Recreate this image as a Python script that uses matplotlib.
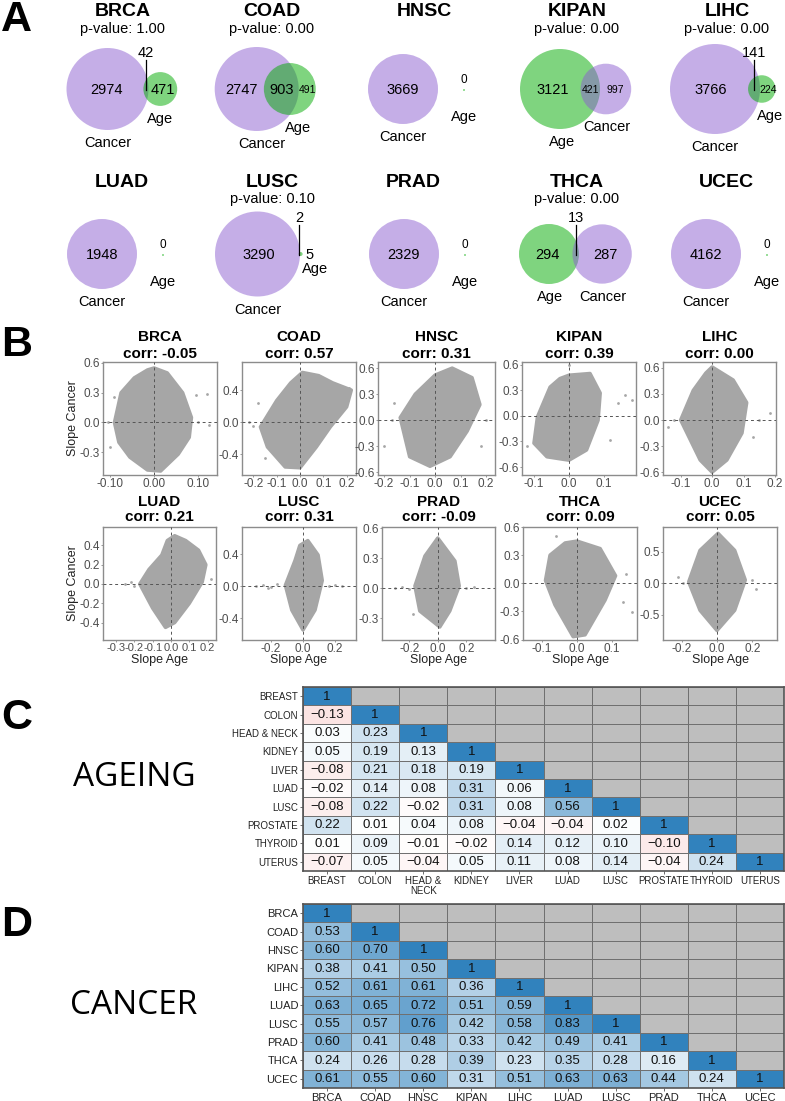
"""Venn overlaps, slope scatter clouds and correlation matrices (ageing vs cancer)."""

import math

import matplotlib

matplotlib.use("Agg")
import matplotlib.pyplot as plt
import numpy as np
from matplotlib.colors import LinearSegmentedColormap
from matplotlib.patches import Circle, Polygon

plt.rcParams["font.family"] = ["Liberation Sans", "DejaVu Sans"]
plt.rcParams["axes.unicode_minus"] = False

W, H = 785, 1101

# ---------------- data: panel A (venn counts) ----------------
cancers = ["BRCA", "COAD", "HNSC", "KIPAN", "LIHC", "LUAD", "LUSC", "PRAD", "THCA", "UCEC"]
cancer_only = [2974, 2747, 3669, 997, 3766, 1948, 3290, 2329, 287, 4162]
age_only = [471, 491, 0, 3121, 224, 0, 5, 0, 294, 0]
both = [42, 903, 0, 421, 141, 0, 2, 0, 13, 0]
p_values = [1.00, 0.00, None, 0.00, 0.00, None, 0.10, None, 0.00, None]

# ---------------- data: panel B (cloud outlines) ----------------
corr = [-0.05, 0.57, 0.31, 0.39, 0.00, 0.21, 0.31, -0.09, 0.09, 0.05]

brca_x = [0.00, 0.03, 0.065, 0.085, 0.08, 0.055, 0.015, -0.015, -0.055, -0.08, -0.09, -0.075, -0.045, -0.015]
brca_y = [0.55, 0.50, 0.30, 0.05, -0.15, -0.32, -0.49, -0.48, -0.35, -0.20, 0.00, 0.30, 0.45, 0.53]
coad_x = [0.01, 0.08, 0.14, 0.22, 0.20, 0.13, 0.07, 0.00, -0.064, -0.14, -0.17, -0.10, -0.04]
coad_y = [0.62, 0.58, 0.49, 0.40, 0.19, -0.06, -0.31, -0.57, -0.56, -0.31, -0.06, 0.27, 0.49]
hnsc_x = [0.067, 0.145, 0.176, 0.126, 0.059, -0.02, -0.10, -0.137, -0.078, 0.0]
hnsc_y = [0.60, 0.49, 0.18, -0.125, -0.42, -0.53, -0.42, 0.03, 0.30, 0.52]
kipan_x = [0.0, 0.06, 0.089, 0.083, 0.05, 0.0, -0.063, -0.10, -0.09, -0.054, -0.026]
kipan_y = [0.48, 0.50, 0.27, -0.05, -0.40, -0.52, -0.48, -0.32, -0.01, 0.34, 0.44]
lihc_x = [0.0, 0.067, 0.11, 0.095, 0.047, 0.0, -0.038, -0.10, -0.06, -0.02]
lihc_y = [0.61, 0.46, 0.20, -0.15, -0.46, -0.60, -0.46, 0.0, 0.34, 0.54]
luad_x = [0.02, 0.08, 0.15, 0.19, 0.17, 0.10, 0.02, -0.03, -0.10, -0.17, -0.12, -0.05, -0.02]
luad_y = [0.50, 0.45, 0.35, 0.20, 0.02, -0.20, -0.40, -0.45, -0.25, 0.00, 0.15, 0.30, 0.45]
lusc_x = [0.03, 0.094, 0.12, 0.075, 0.0, -0.07, -0.11, -0.05, -0.02]
lusc_y = [0.57, 0.39, 0.07, -0.30, -0.55, -0.30, 0.01, 0.32, 0.51]
prad_x = [0.0, 0.12, 0.15, 0.084, 0.014, -0.126, -0.16, -0.09]
prad_y = [0.50, 0.27, 0.02, -0.23, -0.39, -0.23, 0.02, 0.32]
thca_x = [0.0, 0.066, 0.11, 0.08, 0.023, -0.011, -0.063, -0.09, -0.077, -0.034]
thca_y = [0.45, 0.37, 0.08, -0.18, -0.55, -0.57, -0.23, 0.03, 0.30, 0.43]
ucec_x = [0.006, 0.10, 0.16, 0.10, 0.0, -0.096, -0.16, -0.096]
ucec_y = [0.79, 0.52, 0.05, -0.43, -0.75, -0.43, 0.02, 0.52]

# scattered outlying genes
brca_ox = [0.12, 0.125, 0.10, -0.10, -0.09, 0.095, -0.105]
brca_oy = [0.29, -0.03, 0.0, -0.25, 0.26, 0.28, 0.0]
coad_ox = [-0.22, -0.18, -0.15, -0.20, 0.21]
coad_oy = [0.0, 0.24, -0.45, -0.05, 0.42]
hnsc_ox = [-0.17, -0.20, 0.18, 0.20, -0.16]
hnsc_oy = [0.0, -0.30, -0.30, 0.0, 0.20]
kipan_ox = [0.18, 0.117, -0.12, 0.0, 0.16, 0.14]
kipan_oy = [0.19, -0.28, -0.35, 0.60, 0.25, 0.15]
lihc_ox = [0.184, -0.14, 0.13, 0.15, -0.12]
lihc_oy = [0.08, -0.08, -0.19, 0.0, 0.0]
luad_ox = [-0.25, -0.22, 0.22, -0.2]
luad_oy = [0.0, 0.02, 0.05, -0.02]
lusc_ox = [-0.29, -0.25, -0.20, -0.16, 0.16, 0.20, 0.24, -0.22]
lusc_oy = [0.0, 0.01, -0.01, 0.02, 0.0, 0.01, 0.0, -0.03]
prad_ox = [-0.30, -0.25, -0.20, 0.20, 0.25, -0.17]
prad_oy = [0.0, 0.01, -0.01, 0.0, 0.01, -0.26]
thca_ox = [-0.06, 0.157, 0.13, 0.14]
thca_oy = [0.50, -0.31, -0.20, 0.10]
ucec_ox = [-0.19, 0.20, 0.22, -0.22]
ucec_oy = [0.0, 0.05, -0.10, 0.10]

# ---------------- data: panels C and D (lower-triangle correlations) ----------------
tissues = ["BREAST", "COLON", "HEAD & NECK", "KIDNEY", "LIVER", "LUAD", "LUSC", "PROSTATE", "THYROID", "UTERUS"]
tissue_xlabels = ["BREAST", "COLON", "HEAD &\nNECK", "KIDNEY", "LIVER", "LUAD", "LUSC", "PROSTATE", "THYROID", "UTERUS"]
ageing_corr = [
    [1],
    [-0.13, 1],
    [0.03, 0.23, 1],
    [0.05, 0.19, 0.13, 1],
    [-0.08, 0.21, 0.18, 0.19, 1],
    [-0.02, 0.14, 0.08, 0.31, 0.06, 1],
    [-0.08, 0.22, -0.02, 0.31, 0.08, 0.56, 1],
    [0.22, 0.01, 0.04, 0.08, -0.04, -0.04, 0.02, 1],
    [0.01, 0.09, -0.01, -0.02, 0.14, 0.12, 0.10, -0.10, 1],
    [-0.07, 0.05, -0.04, 0.05, 0.11, 0.08, 0.14, -0.04, 0.24, 1],
]
cancer_corr = [
    [1],
    [0.53, 1],
    [0.60, 0.70, 1],
    [0.38, 0.41, 0.50, 1],
    [0.52, 0.61, 0.61, 0.36, 1],
    [0.63, 0.65, 0.72, 0.51, 0.59, 1],
    [0.55, 0.57, 0.76, 0.42, 0.58, 0.83, 1],
    [0.60, 0.41, 0.48, 0.33, 0.42, 0.49, 0.41, 1],
    [0.24, 0.26, 0.28, 0.39, 0.23, 0.35, 0.28, 0.16, 1],
    [0.61, 0.55, 0.60, 0.31, 0.51, 0.63, 0.63, 0.44, 0.24, 1],
]

# ---------------- layout (pixels) ----------------
VENN_CX = [107.5, 256.7, 403, 560, 715, 102, 257.5, 404, 549, 706]
VENN_RMAX = [41, 42, 35, 40, 45, 35, 42.5, 35, 30, 35]
VENN_AGE_LEFT = [False, False, False, True, False, False, False, False, True, False]
VENN_EXT = [True, False, False, False, True, False, True, False, True, False]
VENN_TITLE_X = [123, 272, 424, 577, 727, 122, 272, 413, 577, 726]
VENN_ROW_CY = [89, 254]
VENN_TITLE_Y = [16.5, 186.5]
VENN_P_Y = [33.3, 203.3]
AGE_LAB_DX = [0, 8, 0, 2, 8, 0, 14, 0, 1, 0]
CAN_LAB_DX = [0, 5, 0, 1, 0, 0, 0, 0, 1, 0]
PURPLE = "#8c5fd0"
GREEN = "#00aa00"

B_BOXES = [
    (103, 362, 217, 475), (242, 362, 356, 475), (378, 362, 495, 475), (522, 362, 636, 475), (663, 362, 776, 475),
    (103, 527, 216, 640), (242, 527, 356, 640), (382, 527, 495, 640), (523, 527, 637, 640), (663, 527, 777, 640),
]
B_XLIM = [(-0.116, 0.143), (-0.249, 0.240), (-0.224, 0.235), (-0.134, 0.191), (-0.156, 0.203),
          (-0.37, 0.245), (-0.38, 0.33), (-0.39, 0.40), (-0.154, 0.171), (-0.305, 0.339)]
B_YLIM = [(-0.53, 0.61), (-0.66, 0.75), (-0.63, 0.67), (-0.694, 0.635), (-0.632, 0.667),
          (-0.58, 0.59), (-0.675, 0.74), (-0.52, 0.61), (-0.605, 0.595), (-0.9, 0.89)]
B_XTICKS = [[-0.1, 0, 0.1], [-0.2, -0.1, 0, 0.1, 0.2], [-0.2, -0.1, 0, 0.1, 0.2], [-0.1, 0, 0.1], [-0.1, 0, 0.1, 0.2],
            [-0.3, -0.2, -0.1, 0, 0.1, 0.2], [-0.2, 0, 0.2], [-0.2, 0, 0.2], [-0.1, 0, 0.1], [-0.2, 0, 0.2]]
B_YTICKS = [[-0.3, 0, 0.3, 0.6], [-0.4, 0, 0.4], [-0.6, -0.3, 0, 0.3, 0.6], [-0.6, -0.3, 0, 0.3, 0.6],
            [-0.6, -0.3, 0, 0.3, 0.6], [-0.4, -0.2, 0, 0.2, 0.4], [-0.4, 0, 0.4], [-0.3, 0, 0.3, 0.6],
            [-0.6, -0.3, 0, 0.3, 0.6], [-0.5, 0, 0.5]]
B_XDEC = [2, 1, 1, 1, 1, 1, 1, 1, 1, 1]
B_XLABSIZE = [8.5, 8.5, 8.5, 8.5, 8.5, 8, 8.5, 8.5, 8.5, 8.5]
CLOUD = "#a6a6a6"


def px_axes(fig, x0, y0, x1, y1):
    return fig.add_axes([x0 / W, 1 - y1 / H, (x1 - x0) / W, (y1 - y0) / H])


def lens_area(r1, r2, d):
    if d >= r1 + r2:
        return 0.0
    if d <= abs(r1 - r2):
        return math.pi * min(r1, r2) ** 2
    a1 = r1 * r1 * math.acos((d * d + r1 * r1 - r2 * r2) / (2 * d * r1))
    a2 = r2 * r2 * math.acos((d * d + r2 * r2 - r1 * r1) / (2 * d * r2))
    a3 = 0.5 * math.sqrt((-d + r1 + r2) * (d + r1 - r2) * (d - r1 + r2) * (d + r1 + r2))
    return a1 + a2 - a3


def centre_distance(r1, r2, target):
    lo, hi = abs(r1 - r2) + 1e-6, r1 + r2
    for _ in range(80):
        mid = 0.5 * (lo + hi)
        if lens_area(r1, r2, mid) > target:
            lo = mid
        else:
            hi = mid
    return 0.5 * (lo + hi)


def draw_venn(ax, i):
    row = i // 5
    cy = VENN_ROW_CY[row]
    n_can = cancer_only[i] + both[i]
    n_age = age_only[i] + both[i]
    ax.text(VENN_TITLE_X[i], VENN_TITLE_Y[row], cancers[i], ha="center", va="baseline",
            fontsize=14, fontweight="bold")
    if p_values[i] is not None:
        ax.text(VENN_TITLE_X[i], VENN_P_Y[row], f"p-value: {p_values[i]:.2f}", ha="center",
                va="baseline", fontsize=10.5)
    cx = VENN_CX[i]
    if n_age == 0:
        r = VENN_RMAX[i]
        ax.add_patch(Circle((cx, cy), r, color=PURPLE, alpha=0.5, lw=0))
        ax.text(cx, cy + 1, f"{cancer_only[i]}", ha="center", va="center", fontsize=10.5)
        ax.text(cx, cy + r + 13, "Cancer", ha="center", va="center", fontsize=10.5)
        dx = cx + 61
        ax.add_patch(Circle((dx, cy + 1), 1.0, color=GREEN, alpha=0.5, lw=0))
        ax.text(dx, cy - 9, "0", ha="center", va="center", fontsize=8.5)
        ax.text(dx, cy + 28, "Age", ha="center", va="center", fontsize=10.5)
        return
    k = math.pi * VENN_RMAX[i] ** 2 / max(n_can, n_age)
    r_can = math.sqrt(n_can * k / math.pi)
    r_age = math.sqrt(n_age * k / math.pi)
    if VENN_AGE_LEFT[i]:
        sets = [("Age", r_age, age_only[i], GREEN, AGE_LAB_DX[i]), ("Cancer", r_can, cancer_only[i], PURPLE, CAN_LAB_DX[i])]
    else:
        sets = [("Cancer", r_can, cancer_only[i], PURPLE, CAN_LAB_DX[i]), ("Age", r_age, age_only[i], GREEN, AGE_LAB_DX[i])]
    (n1, r1, c1, col1, dx1), (n2, r2, c2, col2, dx2) = sets
    d = centre_distance(r1, r2, both[i] * k)
    x1, x2 = cx, cx + d
    ax.add_patch(Circle((x1, cy), r1, color=col1, alpha=0.5, lw=0))
    ax.add_patch(Circle((x2, cy), r2, color=col2, alpha=0.5, lw=0))
    left_x = 0.5 * (x1 - r1 + x2 - r2) + 2
    right_x = 0.5 * (x1 + r1 + x2 + r2)
    lens_x = 0.5 * (x2 - r2 + x1 + r1)
    ax.text(left_x, cy + 1, f"{c1}", ha="center", va="center", fontsize=10.5)
    if right_x - (x1 + r1) < 5:
        right_x = x2 + r2 + 7
    small = r2 < 30 and c2 < 1000 and not VENN_EXT[i] or cancers[i] == "LIHC"
    ax.text(right_x, cy + 1, f"{c2}", ha="center", va="center", fontsize=7.5 if small else 10.5)
    if VENN_EXT[i]:
        ax.text(lens_x, cy - 36, f"{both[i]}", ha="center", va="center", fontsize=10.5)
        ax.plot([lens_x, lens_x], [cy - 29, cy + 1], color="black", lw=0.9)
    else:
        ax.text(lens_x, cy + 1, f"{both[i]}", ha="center", va="center",
                fontsize=7.5 if both[i] < 500 else 10.5)
    ax.text(x1 + dx1, cy + r1 + 13, n1, ha="center", va="center", fontsize=10.5)
    ax.text(x2 + dx2, cy + r2 + 13, n2, ha="center", va="center", fontsize=10.5)


def draw_cloud(ax, i, hx, hy, ox, oy):
    ax.add_patch(Polygon(np.column_stack([hx, hy]), closed=True, facecolor=CLOUD, edgecolor=CLOUD,
                         lw=2.5, joinstyle="round", zorder=2))
    ax.scatter(ox, oy, s=4, color=CLOUD, lw=0, zorder=2)
    ax.axhline(0, color="#555555", lw=0.7, ls=(0, (3, 3)), zorder=3)
    ax.axvline(0, color="#555555", lw=0.7, ls=(0, (3, 3)), zorder=3)
    ax.set_xlim(*B_XLIM[i])
    ax.set_ylim(*B_YLIM[i])
    ax.set_xticks(B_XTICKS[i])
    ax.set_xticklabels([f"{t:.{B_XDEC[i]}f}" for t in B_XTICKS[i]])
    ax.set_yticks(B_YTICKS[i])
    ax.set_yticklabels([f"{t:.1f}" for t in B_YTICKS[i]])
    ax.tick_params(length=1.5, width=0.6, pad=1, labelsize=8.5, colors="#888888", labelcolor="#4d4d4d")
    ax.tick_params(axis="x", labelsize=B_XLABSIZE[i])
    for sp in ax.spines.values():
        sp.set_color("#8c8c8c")
        sp.set_linewidth(1.0)


def draw_corr(ax, rows, ylabels, xlabels, labsize):
    n = len(rows)
    m = np.full((n, n), np.nan)
    for r, vals in enumerate(rows):
        m[r, : len(vals)] = vals
    cmap = LinearSegmentedColormap.from_list("rwb", ["#de2d26", "#ffffff", "#3182bd"])
    ax.set_facecolor("#bebebe")
    ax.pcolormesh(np.arange(n + 1), np.arange(n + 1), np.ma.masked_invalid(m), cmap=cmap, vmin=-1, vmax=1,
                  edgecolors="#707070", linewidth=0.6)
    for r, vals in enumerate(rows):
        for c, v in enumerate(vals):
            s = "1" if r == c else f"{v:.2f}".replace("-", "\u2212")
            ax.text(c + 0.5, r + 0.52, s, ha="center", va="center", fontsize=9.5, color="#111111")
    ax.set_xlim(0, n)
    ax.set_ylim(n, 0)
    ax.set_yticks(np.arange(n) + 0.5)
    ax.set_yticklabels(ylabels, fontsize=labsize)
    ax.set_xticks(np.arange(n) + 0.5)
    ax.set_xticklabels(xlabels, fontsize=labsize, linespacing=1.0)
    ax.tick_params(length=2.5, width=0.6, pad=1, colors="#555555", labelcolor="#222222")
    for sp in ax.spines.values():
        sp.set_color("#555555")
        sp.set_linewidth(1.2)


fig = plt.figure(figsize=(W / 100, H / 100), dpi=100)

# panel letters
for letter, y in zip("ABCD", [20, 345, 718, 925]):
    fig.text(1 / W, 1 - y / H, letter, fontsize=31, fontweight="bold", va="center", ha="left")

# panel A
ax_a = px_axes(fig, 0, 0, W, 320)
ax_a.set_xlim(0, W)
ax_a.set_ylim(320, 0)
ax_a.axis("off")
for i in range(len(cancers)):
    draw_venn(ax_a, i)

# panel B
hulls = [(brca_x, brca_y, brca_ox, brca_oy), (coad_x, coad_y, coad_ox, coad_oy),
         (hnsc_x, hnsc_y, hnsc_ox, hnsc_oy), (kipan_x, kipan_y, kipan_ox, kipan_oy),
         (lihc_x, lihc_y, lihc_ox, lihc_oy), (luad_x, luad_y, luad_ox, luad_oy),
         (lusc_x, lusc_y, lusc_ox, lusc_oy), (prad_x, prad_y, prad_ox, prad_oy),
         (thca_x, thca_y, thca_ox, thca_oy), (ucec_x, ucec_y, ucec_ox, ucec_oy)]
title_y = [(337.5, 354), (502, 517)]
for i, (hx, hy, ox, oy) in enumerate(hulls):
    x0, y0, x1, y1 = B_BOXES[i]
    ax = px_axes(fig, x0, y0, x1, y1)
    draw_cloud(ax, i, hx, hy, ox, oy)
    ty1, ty2 = title_y[i // 5]
    cx = 0.5 * (x0 + x1) / W
    fig.text(cx, 1 - ty1 / H, cancers[i], ha="center", va="center", fontsize=11, fontweight="bold")
    fig.text(cx, 1 - ty2 / H, f"corr: {corr[i]:.2f}", ha="center", va="center", fontsize=11, fontweight="bold")
    if i >= 5:
        fig.text(cx, 1 - 660 / H, "Slope Age", ha="center", va="center", fontsize=9, color="#222222")
for y in [418, 583]:
    fig.text(73 / W, 1 - y / H, "Slope Cancer", ha="center", va="center", rotation=90, fontsize=9,
             color="#222222")

# panels C and D
ax_c = px_axes(fig, 303, 687, 784, 871)
draw_corr(ax_c, ageing_corr, tissues, tissue_xlabels, 7)
ax_d = px_axes(fig, 303, 904, 784, 1088)
draw_corr(ax_d, cancer_corr, cancers, cancers, 8)
fig.text(134 / W, 1 - 778 / H, "AGEING", ha="center", va="center", fontsize=24, family="Open Sans")
fig.text(134 / W, 1 - 1006 / H, "CANCER", ha="center", va="center", fontsize=24, family="Open Sans")

fig.savefig("out.png", dpi=100)
